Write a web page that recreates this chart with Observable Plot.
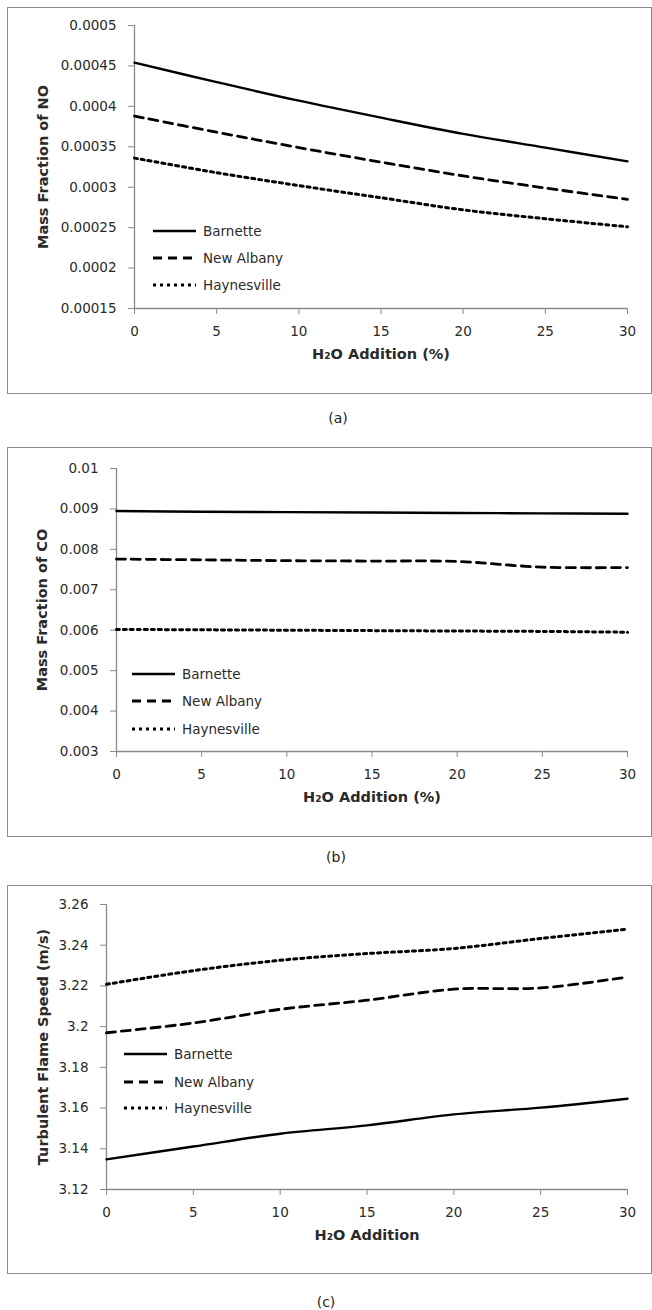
<!DOCTYPE html>
<html>
<head>
<meta charset="utf-8">
<script src="https://cdn.jsdelivr.net/npm/d3@7"></script>
<script src="https://cdn.jsdelivr.net/npm/@observablehq/plot@0.6"></script>
<style>
  html, body { margin: 0; padding: 0; background: #fff; }
  #page { position: relative; width: 652px; height: 1310px; overflow: hidden; font-family: "DejaVu Sans", sans-serif; }
  .frame { position: absolute; border: 1.5px solid #8c8c8c; box-sizing: border-box; }
  .panel { position: absolute; left: 0; }
  .caption { position: absolute; font-size: 14px; color: #222; transform: translate(-50%, -50%); }
</style>
</head>
<body>
<div id="page"></div>
<script>
// H2O addition levels (%)
const h2o = [0, 5, 10, 15, 20, 25, 30];
const xTicks = [0, 5, 10, 15, 20, 25, 30];
const fuels = ["Barnette", "New Albany", "Haynesville"];

// (a) mass fraction of NO
const noBarnette    = [0.000454, 0.000430, 0.000407, 0.000386, 0.000366, 0.000349, 0.000332];
const noNewAlbany   = [0.000388, 0.000368, 0.000349, 0.000331, 0.000314, 0.000299, 0.000285];
const noHaynesville = [0.000336, 0.000318, 0.000302, 0.000287, 0.000272, 0.000261, 0.000251];
const noTicks = [0.00015, 0.0002, 0.00025, 0.0003, 0.00035, 0.0004, 0.00045, 0.0005];

// (b) mass fraction of CO
const coBarnette    = [0.00895, 0.00893, 0.00892, 0.00891, 0.00890, 0.00889, 0.00888];
const coNewAlbany   = [0.00776, 0.00774, 0.00772, 0.00771, 0.00770, 0.00756, 0.00755];
const coHaynesville = [0.00602, 0.00601, 0.00600, 0.00599, 0.00598, 0.00597, 0.00595];
const coTicks = [0.003, 0.004, 0.005, 0.006, 0.007, 0.008, 0.009, 0.01];

// (c) turbulent flame speed (m/s)
const sBarnette    = [3.1348, 3.1411, 3.1474, 3.1515, 3.1569, 3.1602, 3.1646];
const sNewAlbany   = [3.1970, 3.2018, 3.2085, 3.2130, 3.2184, 3.2190, 3.2244];
const sHaynesville = [3.2208, 3.2275, 3.2326, 3.2359, 3.2384, 3.2433, 3.2479];
const sTicks = [3.12, 3.14, 3.16, 3.18, 3.2, 3.22, 3.24, 3.26];

const styles = {
  "Barnette":    {strokeWidth: 2.4, strokeDasharray: null},
  "New Albany":  {strokeWidth: 2.8, strokeDasharray: "9,6"},
  "Haynesville": {strokeWidth: 3,   strokeDasharray: "3,4"}
};

const axisGray = "#8a8a8a";
const textColor = "#2a2a2a";

function rows(series) {
  return fuels.flatMap((f, i) => h2o.map((x, j) => ({fuel: f, x, y: series[i][j]})));
}

function panel(cfg) {
  const page = document.getElementById("page");
  const frame = document.createElement("div");
  frame.className = "frame";
  Object.assign(frame.style, {left: "7px", top: cfg.frameTop + "px", width: "645px", height: cfg.frameHeight + "px"});
  page.appendChild(frame);

  const data = rows(cfg.series);
  const [y0, y1] = cfg.domain;
  const marks = [
    Plot.ruleY([y0], {stroke: axisGray, strokeWidth: 1.3}),
    Plot.ruleX([0], {stroke: axisGray, strokeWidth: 1.3}),
    Plot.axisY({ticks: cfg.ticks, tickFormat: cfg.fmt, tickSize: 6, tickPadding: 12, stroke: axisGray,
                fill: textColor, fontSize: 13.5, label: null}),
    Plot.axisX({ticks: xTicks, tickSize: 6, tickPadding: 12, stroke: axisGray, fill: textColor, fontSize: 13.5, label: null}),
    Plot.text([cfg.xLabel], {frameAnchor: "bottom", dy: 50, fontSize: 14.5, fontWeight: "bold", fill: textColor}),
    Plot.text([cfg.yLabel], {frameAnchor: "left", textAnchor: "middle", rotate: -90, dx: cfg.yLabelDx,
                             fontSize: 14.5, fontWeight: "bold", fill: textColor})
  ];
  for (const f of fuels) {
    marks.push(Plot.line(data.filter(d => d.fuel === f), {
      x: "x", y: "y", stroke: "#000", curve: "catmull-rom",
      strokeWidth: styles[f].strokeWidth, strokeDasharray: styles[f].strokeDasharray
    }));
  }

  const svg = Plot.plot({
    width: 652, height: cfg.height,
    marginLeft: cfg.marginLeft, marginRight: 25, marginTop: cfg.marginTop, marginBottom: cfg.marginBottom,
    style: {fontFamily: "DejaVu Sans, sans-serif", background: "transparent", overflow: "visible"},
    x: {domain: [0, 30]},
    y: {domain: [y0, y1]},
    marks
  });
  svg.classList.add("panel");
  svg.style.top = cfg.top + "px";
  page.appendChild(svg);

  // legend in the lower-left corner of the plotting area
  const g = d3.select(svg).append("g")
    .attr("transform", `translate(${cfg.marginLeft},${cfg.height - cfg.marginBottom})`)
    .attr("text-anchor", "start");
  fuels.forEach((f, i) => {
    const yy = cfg.legendY[i];
    g.append("line").attr("x1", cfg.legendX).attr("x2", cfg.legendX + 43).attr("y1", yy).attr("y2", yy)
      .attr("stroke", "#000").attr("stroke-width", styles[f].strokeWidth)
      .attr("stroke-dasharray", styles[f].strokeDasharray);
    g.append("text").attr("x", cfg.legendX + 50).attr("y", yy).attr("dy", "0.35em")
      .attr("font-size", 13.5).attr("fill", textColor).text(f);
  });

  const cap = document.createElement("div");
  cap.className = "caption";
  cap.style.left = cfg.capX + "px";
  cap.style.top = cfg.capY + "px";
  cap.textContent = cfg.caption;
  page.appendChild(cap);
}

panel({
  top: 0, height: 400, marginLeft: 134, marginTop: 25, marginBottom: 92,
  frameTop: 7, frameHeight: 387,
  series: [noBarnette, noNewAlbany, noHaynesville], domain: [0.00015, 0.0005], ticks: noTicks,
  fmt: d => String(+d.toFixed(5)),
  xLabel: "H₂O Addition (%)", yLabel: "Mass Fraction of NO", yLabelDx: -91,
  legendX: 19, legendY: [-77, -50, -23],
  caption: "(a)", capX: 338, capY: 418
});

panel({
  top: 440, height: 400, marginLeft: 116, marginTop: 28, marginBottom: 89,
  frameTop: 447, frameHeight: 390,
  series: [coBarnette, coNewAlbany, coHaynesville], domain: [0.003, 0.01], ticks: coTicks,
  fmt: d => String(+d.toFixed(3)),
  xLabel: "H₂O Addition (%)", yLabel: "Mass Fraction of CO", yLabelDx: -74,
  legendX: 16, legendY: [-77, -50, -22],
  caption: "(b)", capX: 336, capY: 857
});

panel({
  top: 880, height: 400, marginLeft: 106, marginTop: 24, marginBottom: 91,
  frameTop: 885, frameHeight: 389,
  series: [sBarnette, sNewAlbany, sHaynesville], domain: [3.12, 3.26], ticks: sTicks,
  fmt: d => String(+d.toFixed(2)),
  xLabel: "H₂O Addition", yLabel: "Turbulent Flame Speed (m/s)", yLabelDx: -63,
  legendX: 18, legendY: [-135, -107, -81],
  caption: "(c)", capX: 326, capY: 1302
});
</script>
</body>
</html>
